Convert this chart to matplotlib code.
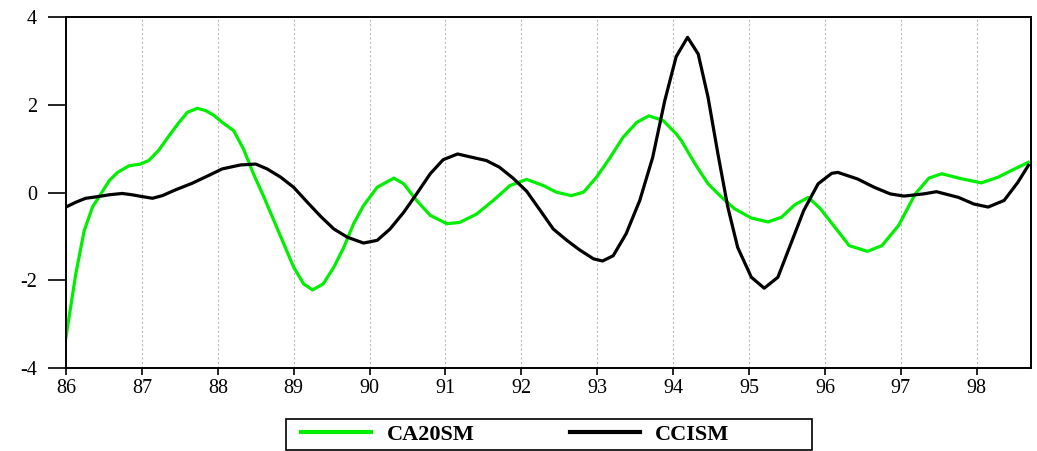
import matplotlib
matplotlib.use("Agg")
import matplotlib.pyplot as plt
from matplotlib.patches import Rectangle

# CA20SM (green)
ca20_x = [86.00, 86.13, 86.24, 86.35, 86.46, 86.57, 86.68, 86.83, 86.98, 87.09,
          87.22, 87.36, 87.49, 87.60, 87.73, 87.84, 87.95, 88.06, 88.21, 88.34,
          88.47, 88.61, 88.74, 88.87, 89.00, 89.13, 89.25, 89.39, 89.53, 89.66,
          89.79, 89.92, 90.10, 90.32, 90.45, 90.62, 90.80, 91.02, 91.19, 91.41,
          91.63, 91.85, 92.07, 92.29, 92.46, 92.66, 92.82, 92.99, 93.17, 93.34,
          93.52, 93.68, 93.87, 94.04, 94.11, 94.29, 94.46, 94.64, 94.81, 95.03,
          95.25, 95.43, 95.60, 95.78, 95.93, 96.09, 96.32, 96.56, 96.75, 96.97,
          97.19, 97.37, 97.54, 97.76, 98.06, 98.28, 98.50, 98.68]
ca20_y = [-3.30, -1.85, -0.87, -0.33, -0.03, 0.27, 0.46, 0.61, 0.65, 0.73,
          0.96, 1.30, 1.60, 1.83, 1.92, 1.87, 1.76, 1.60, 1.41, 0.99,
          0.43, -0.11, -0.64, -1.17, -1.70, -2.08, -2.22, -2.08, -1.70, -1.25,
          -0.71, -0.30, 0.12, 0.33, 0.20, -0.18, -0.52, -0.71, -0.68, -0.49,
          -0.18, 0.16, 0.30, 0.16, 0.01, -0.07, 0.01, 0.35, 0.80, 1.26,
          1.60, 1.75, 1.64, 1.34, 1.18, 0.65, 0.20, -0.11, -0.37, -0.58,
          -0.67, -0.56, -0.28, -0.11, -0.35, -0.70, -1.21, -1.34, -1.21, -0.75,
          -0.03, 0.33, 0.43, 0.33, 0.22, 0.35, 0.54, 0.69]

# CCISM (black)
cci_x = [86.00, 86.13, 86.26, 86.43, 86.57, 86.74, 86.87, 87.00, 87.14, 87.27,
         87.44, 87.66, 87.88, 88.06, 88.30, 88.50, 88.65, 88.83, 89.00, 89.18,
         89.36, 89.53, 89.71, 89.92, 90.10, 90.27, 90.45, 90.62, 90.80, 90.97,
         91.16, 91.36, 91.54, 91.71, 91.89, 92.07, 92.25, 92.42, 92.60, 92.77,
         92.95, 93.07, 93.21, 93.38, 93.56, 93.73, 93.89, 94.04, 94.19, 94.33,
         94.46, 94.59, 94.72, 94.85, 95.03, 95.20, 95.38, 95.55, 95.72, 95.91,
         96.09, 96.17, 96.43, 96.65, 96.86, 97.04, 97.30, 97.47, 97.76, 97.96,
         98.15, 98.36, 98.54, 98.68]
cci_y = [-0.33, -0.22, -0.13, -0.09, -0.05, -0.02, -0.05, -0.09, -0.13, -0.07,
         0.06, 0.21, 0.39, 0.54, 0.63, 0.65, 0.54, 0.35, 0.12, -0.22,
         -0.55, -0.83, -1.02, -1.15, -1.09, -0.83, -0.45, -0.03, 0.43, 0.75,
         0.88, 0.80, 0.73, 0.58, 0.33, 0.03, -0.41, -0.83, -1.09, -1.31,
         -1.51, -1.56, -1.44, -0.94, -0.18, 0.80, 2.10, 3.10, 3.54, 3.16,
         2.17, 0.88, -0.33, -1.25, -1.93, -2.18, -1.93, -1.17, -0.41, 0.20,
         0.44, 0.46, 0.31, 0.12, -0.03, -0.08, -0.03, 0.02, -0.11, -0.26,
         -0.33, -0.18, 0.23, 0.62]

years = list(range(86, 99))

plt.rcParams["font.family"] = ["Liberation Serif", "DejaVu Serif"]

fig = plt.figure(figsize=(10.37, 4.51), dpi=100)
ax = fig.add_axes([0.0636, 0.184, 0.931, 0.778])

line1, = ax.plot(ca20_x, ca20_y, color="#00ee00", lw=2.3, label="CA20SM")
line2, = ax.plot(cci_x, cci_y, color="black", lw=2.3, label="CCISM")

ax.set_xlim(86, 98.72)
ax.set_ylim(-4, 4)
ax.set_xticks(years)
ax.set_xticklabels([str(y) for y in years])
ax.set_yticks([-4, -2, 0, 2, 4])
ax.set_yticklabels(["-4", "-2", "0", "2", "4"])
ax.tick_params(axis="x", direction="out", length=5, width=1.2, labelsize=14.5, pad=3)
ax.tick_params(axis="y", direction="out", length=13, width=1.2, labelsize=14.5, pad=8)
for s in ax.spines.values():
    s.set_linewidth(1.4)
for y in years[1:]:
    ax.axvline(y, color="#bbbbbb", lw=0.8, ls=(0, (2, 2)), zorder=0)

# legend box (frame drawn separately so the entries sit left of centre like the original)
fig.patches.append(Rectangle((286 / 1037, 1.5 / 451), 526 / 1037, 30.5 / 451,
                             transform=fig.transFigure, fill=False,
                             edgecolor="black", lw=1.2))
leg = fig.legend(handles=[line1, line2], loc="center", bbox_to_anchor=(0.497, 0.037),
                 ncol=2, frameon=False, handlelength=3.15, columnspacing=4.3,
                 handletextpad=0.68, borderpad=0, borderaxespad=0,
                 prop={"weight": "bold", "size": 16})
for h in leg.legend_handles:
    h.set_linewidth(3)

fig.savefig("out.png", dpi=100)
